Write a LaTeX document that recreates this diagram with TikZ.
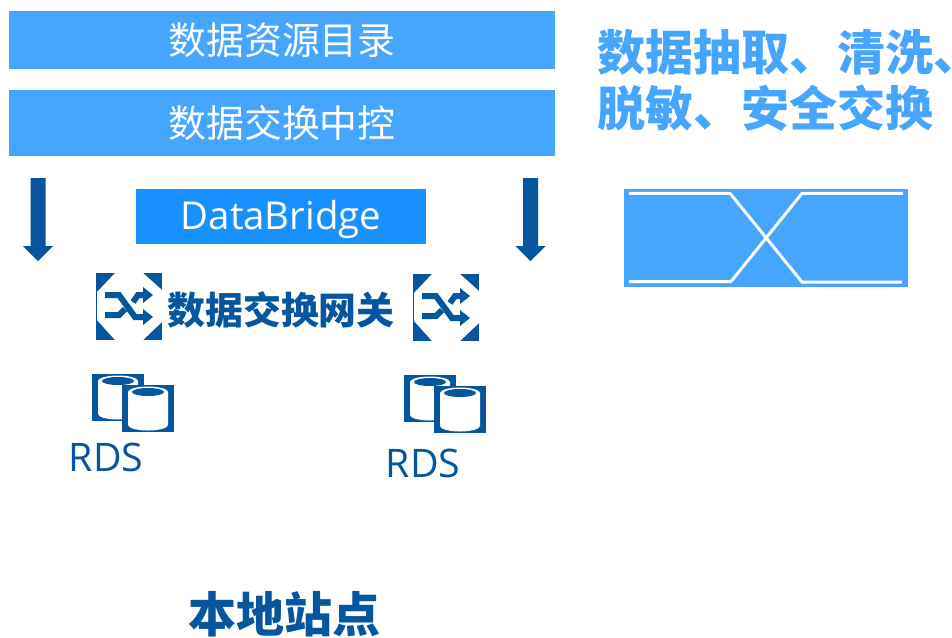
\documentclass[tikz,border=0pt]{standalone}
\usepackage{fontspec}
\setmainfont{Open Sans}
\newfontfamily\cjk{Noto Sans CJK SC}
\definecolor{lightblue}{HTML}{46A6FF}
\definecolor{midblue}{HTML}{1890FF}
\definecolor{darkblue}{HTML}{05569E}
\tikzset{
  x=0.75pt,y=-0.75pt,
  bar/.style={fill=lightblue,text=white,inner sep=0,font=\cjk\fontsize{28.4}{28.4}\selectfont},
  headline/.style={inner sep=0,anchor=west,text=lightblue,font=\cjk\bfseries\fontsize{36}{36}\selectfont},
  darktext/.style={inner sep=0,text=darkblue},
  swbox/.pic={
    \fill[darkblue] (0,0) rectangle (66,67);
    \fill[white] (19,0)--(47,0)--(66,17)--(66,49)--(47,67)--(19,67)--(1,47)--(1,19)--cycle;
    \draw[darkblue,line width=4.5pt,line join=miter]
      (9,22)--(23,22)--(39,44)--(48,44);
    \draw[darkblue,line width=4.5pt] (9,42)--(23,42)--(29,36);
    \draw[darkblue,line width=4.5pt] (37,29)--(42,22)--(48,22);
    \fill[darkblue] (47,14)--(57,22)--(47,30)--cycle;
    \fill[darkblue] (47,36)--(57,44)--(47,52)--cycle;
  },
  cyl/.pic={
    \fill[darkblue] (0,0) rectangle (52,47);
    \fill[white] (6,7) -- (6,40) .. controls (6,43) and (15,45.5) .. (26,45.5)
      .. controls (37,45.5) and (46,43) .. (46,40) -- (46,7)
      .. controls (46,4) and (37,1.5) .. (26,1.5)
      .. controls (15,1.5) and (6,4) .. (6,7) -- cycle;
    \fill[darkblue] (10,7) .. controls (10,9.2) and (17,11) .. (26,11)
      .. controls (35,11) and (42,9.2) .. (42,7)
      .. controls (42,4.8) and (35,3) .. (26,3)
      .. controls (17,3) and (10,4.8) .. (10,7) -- cycle;
  },
  dbpair/.pic={
    \pic at (0,0) {cyl};
    \pic at (30,11) {cyl};
  },
  blockarrow/.pic={
    \fill[darkblue] (-7.5,0)--(7.5,0)--(7.5,68)--(15,68)--(0,83)--(-15,68)--(-7.5,68)--cycle;
  },
}
\begin{document}
\begin{tikzpicture}
\useasboundingbox (0,0) rectangle (952,637);
\node[bar,minimum width=409.5pt,minimum height=43.5pt] (catalog) at (282,40) {数据资源目录};
\node[bar,minimum width=409.5pt,minimum height=49.5pt] (control) at (282,123) {数据交换中控};
\node[fill=midblue,text=white,inner sep=0,minimum width=217.5pt,minimum height=41.25pt,font=\fontsize{28.8}{28.8}\selectfont] (bridge) at (281,216.5) {\raisebox{-2.5pt}[\height][\depth]{DataBridge}};
\node[headline] (head1) at (597,52) {数据抽取、清洗\rlap{、}};
\node[headline] (head2) at (597,108) {脱敏、安全交换};
\pic at (38,178) {blockarrow};
\pic at (530.5,178) {blockarrow};
\pic at (96,273) {swbox};
\pic at (413,274) {swbox};
\node[darktext,font=\cjk\bfseries\fontsize{28.4}{28.4}\selectfont] (gateway) at (281,310) {数据交换网关};
\pic at (92,374) {dbpair};
\pic at (404,375) {dbpair};
\node[darktext,font=\fontsize{29.5}{29.5}\selectfont] (rdsa) at (106,457.5) {RDS};
\node[darktext,font=\fontsize{29.5}{29.5}\selectfont] (rdsb) at (423,463.5) {RDS};
\node[darktext,font=\cjk\bfseries\fontsize{36}{36}\selectfont] (site) at (284,614) {本地站点};
\node[fill=lightblue,inner sep=0,minimum width=213pt,minimum height=73.5pt] (panel) at (766,238) {};
\draw[white,line width=2.25pt,line join=round] (629,193.3)--(730,193.3)--(802,282)--(902,282);
\draw[white,line width=2.25pt,line join=round] (629,281.5)--(731,281.5)--(802,193.3)--(903,193.3);
\end{tikzpicture}
\end{document}
